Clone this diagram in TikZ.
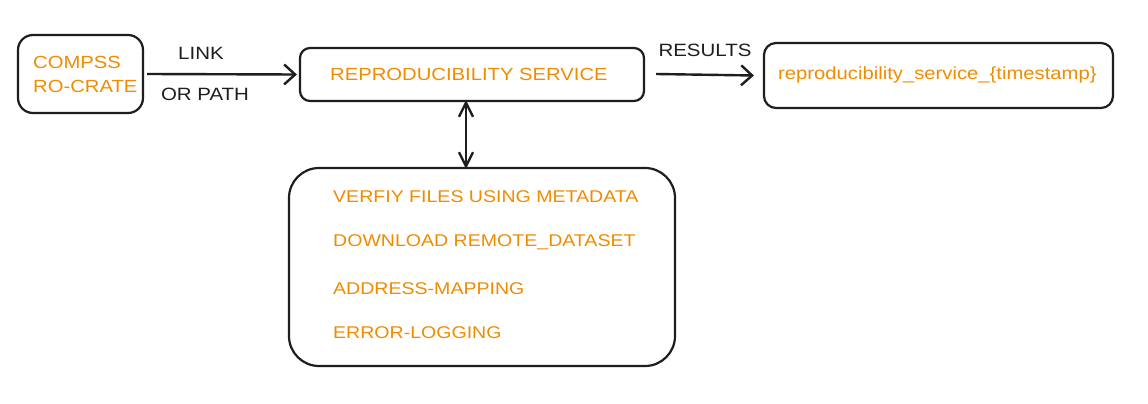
\documentclass[tikz,border=0pt]{standalone}
\usepackage{fontspec}
\setmainfont[FakeStretch=1.15]{Liberation Sans}
\usetikzlibrary{arrows.meta}
\definecolor{exorange}{HTML}{F08C00}
\definecolor{exblack}{HTML}{1E1E1E}
\tikzset{
  box/.style={draw=exblack, line width=2.2pt, fill=white},
  otext/.style={text=exorange, font=\fontsize{17.6}{20}\selectfont, inner sep=0pt, anchor=west},
  ltext/.style={text=exorange, font=\fontsize{17}{20}\selectfont, inner sep=0pt, anchor=west},
  btext/.style={text=exblack, font=\fontsize{17.8}{20}\selectfont, inner sep=0pt},
  conn/.style={draw=exblack, line width=2.4pt, -{Straight Barb[length=11pt,width=20pt,line width=2.4pt]}},
  dconn/.style={draw=exblack, line width=2.4pt, {Straight Barb[length=14pt,width=14pt,line width=2.4pt]}-{Straight Barb[length=14pt,width=14pt,line width=2.4pt]}}
}
\begin{document}
\begin{tikzpicture}[x=1pt,y=-1pt]
\useasboundingbox[fill=white] (0,0) rectangle (1148,404);
% boxes
\node[box, rounded corners=15pt, inner sep=0pt, minimum width=125pt, minimum height=78pt] (compss) at (80.5,74) {};
\node[box, rounded corners=10pt, inner sep=0pt, minimum width=344pt, minimum height=53pt] (repro) at (472,74.5) {};
\node[box, rounded corners=12pt, inner sep=0pt, minimum width=349pt, minimum height=65pt] (res) at (938.5,75.5) {};
\node[box, rounded corners=30pt, inner sep=0pt, minimum width=386pt, minimum height=198pt] (tasks) at (482,267) {};
% texts
\node[otext] (t1) at (33,62) {COMPSS};
\node[otext] (t2) at (33,86) {RO-CRATE};
\node[otext] (t3) at (330,74) {REPRODUCIBILITY SERVICE};
\node[otext] (t4) at (778,75) {reproducibility\_service\_\{timestamp\}};
\node[ltext] (t5) at (333,197) {VERFIY FILES USING METADATA};
\node[ltext] (t6) at (333,242) {DOWNLOAD REMOTE\_DATASET};
\node[ltext] (t7) at (333,289) {ADDRESS-MAPPING};
\node[ltext] (t8) at (333,333) {ERROR-LOGGING};
% connectors
\draw[conn] ([xshift=3pt]compss.east) -- ([xshift=-2pt]repro.west);
\draw[conn] ([xshift=11pt,yshift=0.5pt]repro.east) -- ([xshift=-9pt]res.west);
\draw[dconn] ([xshift=-6pt,yshift=2pt]repro.south) -- ([xshift=-16pt,yshift=-2pt]tasks.north);
% labels
\node[btext] (l1) at (201,53) {LINK};
\node[btext] (l2) at (205,94) {OR PATH};
\node[btext] (l3) at (705,50) {RESULTS};
\end{tikzpicture}
\end{document}
